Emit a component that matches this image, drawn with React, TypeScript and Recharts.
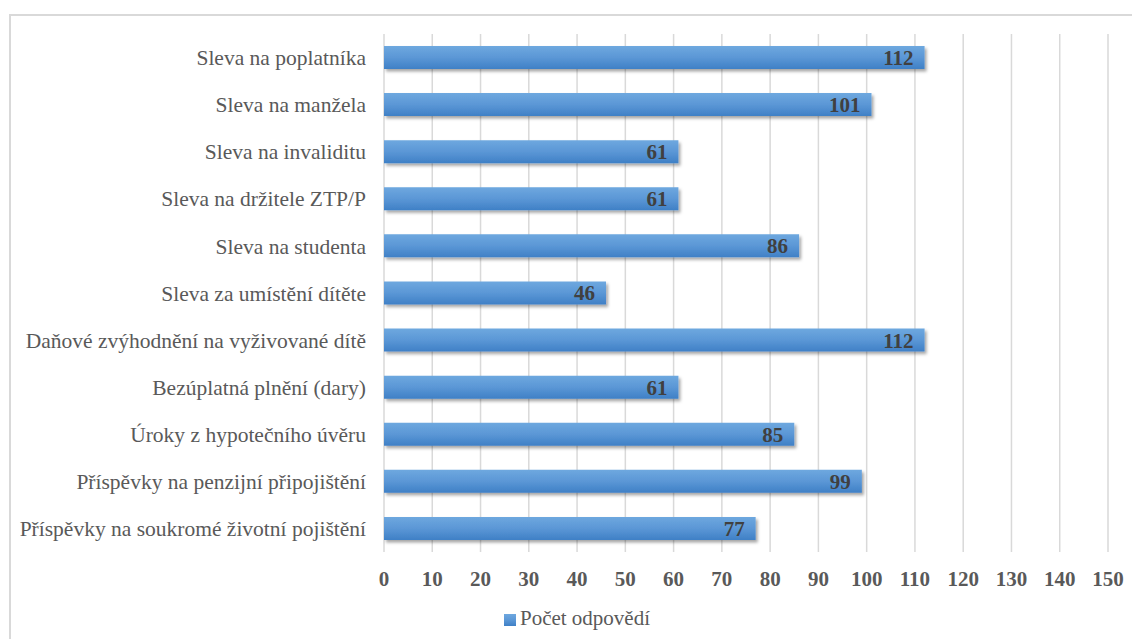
import React from 'react';
import { BarChart, Bar, XAxis, YAxis, CartesianGrid, Legend, LabelList } from 'recharts';

const categories = [
  'Sleva na poplatníka',
  'Sleva na manžela',
  'Sleva na invaliditu',
  'Sleva na držitele ZTP/P',
  'Sleva na studenta',
  'Sleva za umístění dítěte',
  'Daňové zvýhodnění na vyživované dítě',
  'Bezúplatná plnění (dary)',
  'Úroky z hypotečního úvěru',
  'Příspěvky na penzijní připojištění',
  'Příspěvky na soukromé životní pojištění',
];

const counts = [112, 101, 61, 61, 86, 46, 112, 61, 85, 99, 77];

const xTicks = [0, 10, 20, 30, 40, 50, 60, 70, 80, 90, 100, 110, 120, 130, 140, 150];

const seriesName = 'Počet odpovědí';

const data = categories.map((name, i) => ({ name, value: counts[i] }));

const FONT = 'Liberation Serif';

export default function App() {
  return (
    <div style={{ position: 'absolute', left: 0, top: 0, width: 1132, height: 639, background: '#fff', overflow: 'hidden', fontFamily: FONT }}>
      <div
        style={{
          position: 'absolute',
          left: 9,
          top: 14,
          width: 1200,
          height: 700,
          borderTop: '2px solid #d9d9d9',
          borderLeft: '2px solid #d9d9d9',
          boxSizing: 'border-box',
        }}
      />
      <div style={{ position: 'absolute', left: 0, top: 0 }}>
        <BarChart
          width={1132}
          height={639}
          data={data}
          layout="vertical"
          margin={{ top: 34, right: 24, bottom: 8, left: 0 }}
        >
          <defs>
            <linearGradient id="barFill" x1="0" y1="0" x2="0" y2="1">
              <stop offset="0%" stopColor="#6ea8df" />
              <stop offset="50%" stopColor="#5b97d6" />
              <stop offset="100%" stopColor="#3f80c6" />
            </linearGradient>
            <filter id="barShadow" x="-5%" y="-30%" width="110%" height="180%">
              <feDropShadow dx="2" dy="2.5" stdDeviation="1.6" floodColor="#000" floodOpacity="0.35" />
            </filter>
          </defs>
          <CartesianGrid horizontal={false} stroke="#d9d9d9" strokeWidth={1.5} />
          <XAxis
            type="number"
            domain={[0, 150]}
            ticks={xTicks}
            interval={0}
            axisLine={false}
            tickLine={false}
            height={54}
            tickMargin={13}
            tick={{ fill: '#595959', fontSize: 21, fontWeight: 700, fontFamily: FONT }}
          />
          <YAxis
            type="category"
            dataKey="name"
            width={384}
            axisLine={false}
            tickLine={false}
            tickMargin={12}
            interval={0}
            tick={{ fill: '#595959', fontSize: 21.5, fontFamily: FONT }}
          />
          <Legend
            verticalAlign="bottom"
            iconType="square"
            iconSize={12}
            wrapperStyle={{ left: 28, fontFamily: FONT, fontSize: 21 }}
            formatter={(v) => <span style={{ color: '#595959', fontFamily: FONT }}>{v}</span>}
          />
          <Bar
            dataKey="value"
            name={seriesName}
            fill="url(#barFill)"
            barSize={23}
            filter="url(#barShadow)"
            isAnimationActive={false}
            legendType="square"
          >
            <LabelList
              dataKey="value"
              position="insideRight"
              offset={11}
              fill="#404040"
              fontFamily={FONT}
              fontSize={21}
              fontWeight={700}
            />
          </Bar>
        </BarChart>
      </div>
    </div>
  );
}
